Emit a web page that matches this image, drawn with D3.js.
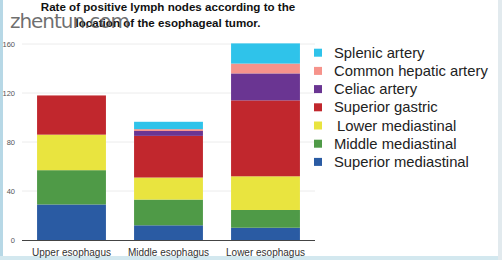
<!DOCTYPE html>
<html>
<head>
<meta charset="utf-8">
<script src="https://cdn.jsdelivr.net/npm/d3@7"></script>
<style>
  body { margin: 0; background: #fff; }
  svg { display: block; font-family: "Liberation Sans", Arial, sans-serif; }
</style>
</head>
<body>
<svg id="chart" width="502" height="260"></svg>
<script>
// data, bottom segment first
const categories = ["Upper esophagus", "Middle esophagus", "Lower esophagus"];
const seriesNames = ["Superior mediastinal", "Middle mediastinal", "Lower mediastinal",
  "Superior gastric", "Celiac artery", "Common hepatic artery", "Splenic artery"];
const superiorMediastinal = [29, 12, 10];
const middleMediastinal = [28, 21, 14.5];
const lowerMediastinal = [29, 18, 27.5];
const superiorGastric = [32, 34, 62];
const celiacArtery = [0, 4, 22];
const commonHepatic = [0, 1.5, 8];
const splenicArtery = [0, 6, 16.5];
const yTicks = [0, 40, 80, 120, 160];
const colors = ["#2a5ba3", "#4f9a47", "#e9e43f", "#c1272d", "#6a3592", "#f6938b", "#2fc3ea"];

const seriesValues = [superiorMediastinal, middleMediastinal, lowerMediastinal,
  superiorGastric, celiacArtery, commonHepatic, splenicArtery];

let svg = d3.select("#chart");

// frame
svg.append("rect").attr("x", 0).attr("y", 0).attr("width", 3).attr("height", 260).attr("fill", "#b7d8e6");
svg.append("rect").attr("x", 0).attr("y", 256).attr("width", 502).attr("height", 4).attr("fill", "#d3e8ef");
svg.append("rect").attr("x", 498).attr("y", 0).attr("width", 4).attr("height", 260).attr("fill", "#e2eaee");

let table = categories.map((c, i) => {
  let row = {cat: c};
  seriesNames.forEach((s, j) => row[s] = seriesValues[j][i]);
  return row;
});
let stacked = d3.stack().keys(seriesNames)(table);

let x = d3.scaleBand().domain(categories).range([23, 314]).paddingInner(0.29).paddingOuter(0.145);
let y = d3.scaleLinear().domain([0, 160]).range([240, 44]);
let color = d3.scaleOrdinal().domain(seriesNames).range(colors);

// grid
svg.append("g").selectAll("line")
  .data(yTicks.slice(1))
  .join("line")
    .attr("x1", 22).attr("x2", 315)
    .attr("y1", d => y(d)).attr("y2", d => y(d))
    .attr("stroke", "#ececec").attr("stroke-width", 1);

// y tick labels
svg.append("g").selectAll("text")
  .data(yTicks)
  .join("text")
    .attr("x", 15).attr("y", d => y(d))
    .attr("dy", "0.35em")
    .attr("text-anchor", "end")
    .attr("font-size", 7.5)
    .attr("fill", "#555")
    .text(d => d);

// bars
svg.append("g").selectAll("g")
  .data(stacked)
  .join("g")
    .attr("fill", d => color(d.key))
  .selectAll("rect")
  .data(d => d)
  .join("rect")
    .attr("x", d => x(d.data.cat))
    .attr("width", x.bandwidth())
    .attr("y", d => y(d[1]))
    .attr("height", d => y(d[0]) - y(d[1]));

// baseline
svg.append("line")
  .attr("x1", 22).attr("x2", 315)
  .attr("y1", y(0) + 0.5).attr("y2", y(0) + 0.5)
  .attr("stroke", "#444").attr("stroke-width", 1);

// x labels
svg.append("g").selectAll("text")
  .data(categories)
  .join("text")
    .attr("x", d => x(d) + x.bandwidth() / 2)
    .attr("y", 252)
    .attr("dy", "0.35em")
    .attr("text-anchor", "middle")
    .attr("font-size", 10)
    .attr("fill", "#333")
    .text(d => d);

// legend (top to bottom, reversed)
let legend = svg.append("g").selectAll("g")
  .data(seriesNames.slice().reverse())
  .join("g")
    .attr("transform", (d, i) => `translate(314, ${52.7 + i * 18.2})`);
legend.append("rect")
  .attr("x", 0).attr("y", -4).attr("width", 8).attr("height", 8)
  .attr("fill", d => color(d));
legend.append("text")
  .attr("x", d => d === "Lower mediastinal" ? 23 : 20)
  .attr("dy", "0.35em")
  .attr("font-size", 14.8)
  .attr("fill", "#222")
  .text(d => d);

// title
let title = svg.append("text")
  .attr("text-anchor", "middle")
  .attr("font-size", 11.6)
  .attr("font-weight", "bold")
  .attr("fill", "#111");
title.append("tspan").attr("x", 168).attr("y", 11).text("Rate of positive lymph nodes according to the");
title.append("tspan").attr("x", 168).attr("y", 27).text("location of the esophageal tumor.");

// watermark
svg.append("text")
  .attr("x", 10).attr("y", 28)
  .attr("font-size", 20)
  .attr("textLength", 120)
  .attr("lengthAdjust", "spacing")
  .attr("font-family", "'DejaVu Sans', sans-serif")
  .attr("fill", "#555")
  .attr("fill-opacity", 0.85)
  .text("zhentun.com");
</script>
</body>
</html>
